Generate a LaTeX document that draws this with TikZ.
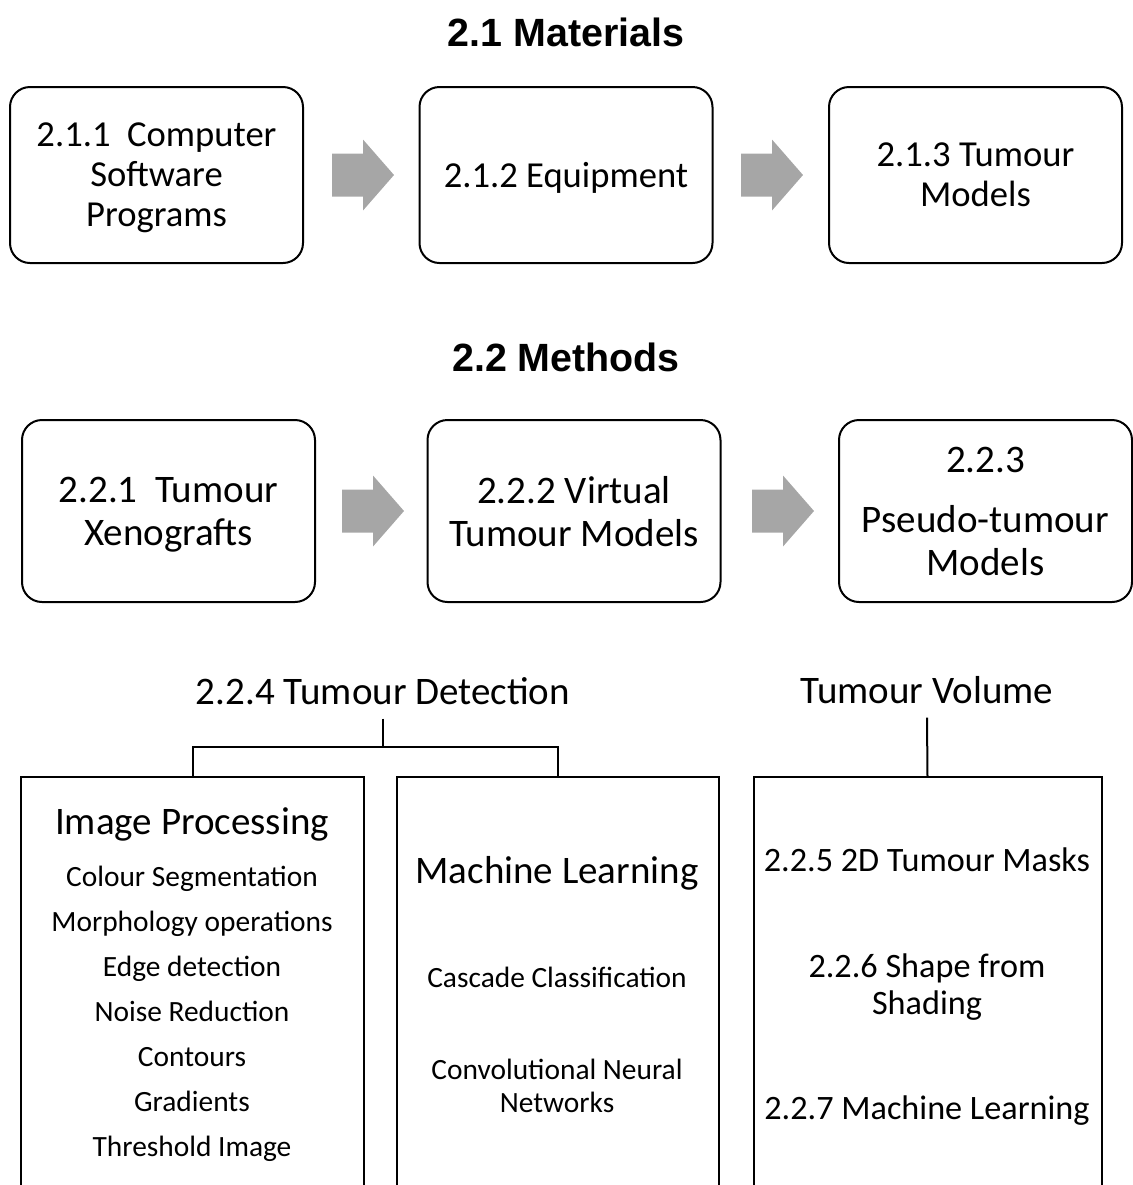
\documentclass[tikz,border=0pt]{standalone}
\usepackage{fontspec}
\setmainfont{Carlito}
\newfontfamily\headfont{Liberation Sans}

\definecolor{arrowgray}{HTML}{A6A6A6}

\tikzset{
	head/.style={font=\headfont\bfseries\fontsize{19.7}{23}\selectfont, text height=14.2pt, text depth=0pt},
	stepbox/.style={draw, line width=1pt, rounded corners=10pt, minimum width=146.5pt, minimum height=88pt, align=center, text depth=0pt, font=\fontsize{18.3}{20}\selectfont},
	stepboxB/.style={stepbox, minimum height=91pt, font=\fontsize{19.5}{21.5}\selectfont},
	fatarrow/.pic={\fill[arrowgray] (-31,-21.5) -- (0,-21.5) -- (0,-35.5) -- (31,0) -- (0,35.5) -- (0,21.5) -- (-31,21.5) -- cycle;},
	group/.style={font=\fontsize{19.5}{22}\selectfont, text height=12.5pt, text depth=0pt},
	panel/.style={draw, line width=1pt, anchor=north, minimum height=260pt},
	item/.style={font=\fontsize{14.7}{16.5}\selectfont, align=center, text height=9.4pt, text depth=0pt},
	itemB/.style={font=\fontsize{17.1}{18.5}\selectfont, align=center, text depth=0pt},
	link/.style={line width=1pt},
}

\begin{document}
\begin{tikzpicture}[x=0.5pt, y=-0.5pt]
	\useasboundingbox (0,0) rectangle (1133,1185);

	% materials
	\node[head] (mat) at (566,32) {2.1 Materials};
	\node[stepbox] (soft) at (156.5,175) {2.1.1\ \ Computer\\Software\\Programs};
	\node[stepbox] (equip) at (566,175) {2.1.2 Equipment};
	\node[stepbox] (model) at (975.5,175) {2.1.3 Tumour\\Models};
	\pic (ma1) at (363,175) {fatarrow};
	\pic (ma2) at (772,175) {fatarrow};

	% methods
	\node[head] (meth) at (566,357) {2.2 Methods};
	\node[stepboxB] (xeno) at (168.5,511) {2.2.1\ \ Tumour\\Xenografts};
	\node[stepboxB] (virt) at (574,511) {2.2.2 Virtual\\Tumour Models};
	\node[stepboxB] (pseudo) at (985.5,511) {2.2.3\\[8.5pt]Pseudo-tumour\\Models};
	\pic (mb1) at (373,511) {fatarrow};
	\pic (mb2) at (783,511) {fatarrow};

	% detection and volume
	\node[group] (detect) at (383,692) {2.2.4 Tumour Detection};
	\node[group] (volume) at (927,691) {Tumour Volume};
	\node[panel, minimum width=171.5pt] (improc) at (192.5,776) {};
	\node[panel, minimum width=161pt] (mlearn) at (557.5,776) {};
	\node[panel, minimum width=174pt] (tvol) at (927.5,776) {};
	\coordinate (fork) at (383,747);
	\draw[link] ([yshift=-3.5pt]detect.south) -- (fork) -| (improc.north);
	\draw[link] (fork) -| (mlearn.north);
	\draw[link] ([yshift=-3.5pt]volume.south) -- (tvol.north);

	\node[group] (iphead) at (192,822) {Image Processing};
	\foreach \txt [count=\i] in {Colour Segmentation, Morphology operations, Edge detection, Noise Reduction, Contours, Gradients, Threshold Image}
		\node[item] (ip\i) at (192,832+45*\i) {\txt};

	\node[group] (mlhead) at (557,871) {Machine Learning};
	\node[item] (cascade) at (557,978) {Cascade Classification};
	\node[item, text height=, text depth=] (cnn) at (557,1085.5) {Convolutional Neural\\Networks};

	\node[itemB] (masks) at (927,860) {2.2.5 2D Tumour Masks};
	\node[itemB] (shading) at (927,984.5) {2.2.6 Shape from\\Shading};
	\node[itemB] (mlvol) at (927,1108) {2.2.7 Machine Learning};

\end{tikzpicture}
\end{document}
